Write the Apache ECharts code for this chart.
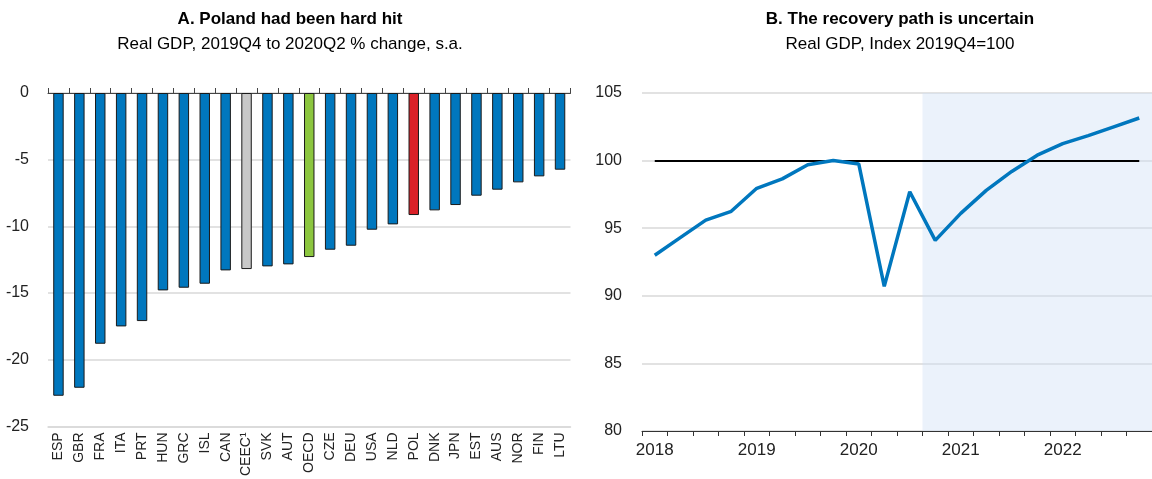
<!DOCTYPE html>
<html>
<head>
<meta charset="utf-8">
<script src="https://cdn.jsdelivr.net/npm/echarts@6/dist/echarts.min.js"></script>
<style>
  html, body { margin: 0; padding: 0; background: #fff; }
  #main { width: 1152px; height: 479px; }
</style>
</head>
<body>
<div id="main"></div>
<script>
// Panel A: real GDP change 2019Q4 -> 2020Q2, %
var countries = ['ESP', 'GBR', 'FRA', 'ITA', 'PRT', 'HUN', 'GRC', 'ISL', 'CAN', 'CEEC¹', 'SVK', 'AUT', 'OECD',
    'CZE', 'DEU', 'USA', 'NLD', 'POL', 'DNK', 'JPN', 'EST', 'AUS', 'NOR', 'FIN', 'LTU'];
var gdpChange = [-22.7, -22.1, -18.8, -17.5, -17.1, -14.8, -14.6, -14.3, -13.3, -13.2, -13.0, -12.85, -12.3,
    -11.75, -11.45, -10.25, -9.85, -9.15, -8.8, -8.4, -7.7, -7.25, -6.7, -6.25, -5.75];
var gdpTicks = [-25, -20, -15, -10, -5, 0];

// Panel B: real GDP index, 2019Q4 = 100
var quarters = ['2018Q1', '2018Q2', '2018Q3', '2018Q4', '2019Q1', '2019Q2', '2019Q3', '2019Q4',
    '2020Q1', '2020Q2', '2020Q3', '2020Q4', '2021Q1', '2021Q2', '2021Q3', '2021Q4',
    '2022Q1', '2022Q2', '2022Q3', '2022Q4'];
var gdpIndex = [93.0, 94.3, 95.6, 96.25, 97.95, 98.65, 99.7, 100.0,
    99.75, 90.7, 97.7, 94.1, 96.1, 97.8, 99.2, 100.4,
    101.25, 101.85, 102.5, 103.15];
var indexTicks = [80, 85, 90, 95, 100, 105];
var projectionStart = '2020Q4';
var baseLevel = 100;

var FONT = '"Liberation Sans", Arial, sans-serif';

var chartDom = document.getElementById('main');
var myChart = echarts.init(chartDom);
var option;

function barColor(name) {
    if (name === 'POL') return '#DA2128';
    if (name === 'OECD') return '#8CC63F';
    if (name === 'CEEC¹') return '#C8C8C8';
    return '#0077BE';
}

var projIdx = quarters.indexOf(projectionStart);

option = {
    animation: false,
    textStyle: { fontFamily: FONT },
    title: [
        {
            text: 'A. Poland had been hard hit',
            subtext: 'Real GDP, 2019Q4 to 2020Q2 % change, s.a.',
            left: 285, top: 6, textAlign: 'center', itemGap: 8,
            textStyle: { fontFamily: FONT, fontSize: 17, fontWeight: 'bold', color: '#000' },
            subtextStyle: { fontFamily: FONT, fontSize: 17, color: '#000' }
        },
        {
            text: 'B. The recovery path is uncertain',
            subtext: 'Real GDP, Index 2019Q4=100',
            left: 895, top: 6, textAlign: 'center', itemGap: 8,
            textStyle: { fontFamily: FONT, fontSize: 17, fontWeight: 'bold', color: '#000' },
            subtextStyle: { fontFamily: FONT, fontSize: 17, color: '#000' }
        }
    ],
    grid: [
        { left: 48, top: 93, width: 522.5, height: 338 },
        { left: 642, top: 93, width: 516, height: 338 }
    ],
    xAxis: [
        {
            type: 'category', gridIndex: 0, data: countries, position: 'bottom',
            axisLine: { onZero: false, lineStyle: { color: '#d9d9d9', width: 1.5 } },
            axisTick: { show: false },
            axisLabel: { rotate: 90, interval: 0, fontSize: 14, color: '#222', fontFamily: FONT, margin: 6 }
        },
        {
            type: 'category', gridIndex: 0, data: countries, position: 'top',
            axisLine: { lineStyle: { color: '#444', width: 1 } },
            axisTick: { show: true, interval: 0, length: 5, lineStyle: { color: '#444' } },
            axisLabel: { show: false }
        },
        {
            type: 'category', gridIndex: 1, data: quarters,
            axisLine: { lineStyle: { color: '#333', width: 1 } },
            axisTick: { show: true, interval: 0, length: 5, lineStyle: { color: '#333' } },
            axisLabel: {
                interval: 0, fontSize: 17, color: '#222', fontFamily: FONT, margin: 11,
                formatter: function (v) { return v.slice(4) === 'Q1' ? v.slice(0, 4) : ''; }
            }
        },
        {
            type: 'value', gridIndex: 1, min: 0, max: quarters.length, show: false
        }
    ],
    yAxis: [
        {
            type: 'value', gridIndex: 0, min: gdpTicks[0], max: gdpTicks[gdpTicks.length - 1], interval: 5,
            axisLine: { show: false }, axisTick: { show: false },
            axisLabel: { fontSize: 16, color: '#222', fontFamily: FONT, margin: 19 },
            splitLine: { lineStyle: { color: '#d9d9d9', width: 1.5 } }
        },
        {
            type: 'value', gridIndex: 1, min: indexTicks[0], max: indexTicks[indexTicks.length - 1], interval: 5,
            axisLine: { show: false }, axisTick: { show: false },
            axisLabel: { fontSize: 16, color: '#222', fontFamily: FONT, margin: 20 },
            splitLine: { lineStyle: { color: '#d9d9d9', width: 1.5 } }
        },
        {
            type: 'value', gridIndex: 1, min: indexTicks[0], max: indexTicks[indexTicks.length - 1], show: false
        }
    ],
    series: [
        {
            name: 'GDP change', type: 'bar', xAxisIndex: 0, yAxisIndex: 0,
            barWidth: '50%',
            data: gdpChange,
            itemStyle: {
                color: function (p) { return barColor(countries[p.dataIndex]); },
                borderColor: '#1a1a1a', borderWidth: 1
            }
        },
        {
            name: 'projection', type: 'line', xAxisIndex: 3, yAxisIndex: 2,
            data: [], z: 1,
            markArea: {
                silent: true,
                itemStyle: { color: 'rgba(205,222,244,0.4)' },
                data: [[{ xAxis: projIdx }, { xAxis: quarters.length }]]
            }
        },
        {
            name: 'GDP index', type: 'line', xAxisIndex: 2, yAxisIndex: 1,
            data: gdpIndex, symbol: 'none', z: 5,
            lineStyle: { color: '#0077BE', width: 3.5 },
            markLine: {
                silent: true, symbol: 'none', label: { show: false },
                lineStyle: { color: '#000', width: 2, type: 'solid' },
                data: [[{ coord: [quarters[0], baseLevel] }, { coord: [quarters[quarters.length - 1], baseLevel] }]]
            }
        }
    ]
};

option && myChart.setOption(option);
</script>
</body>
</html>
